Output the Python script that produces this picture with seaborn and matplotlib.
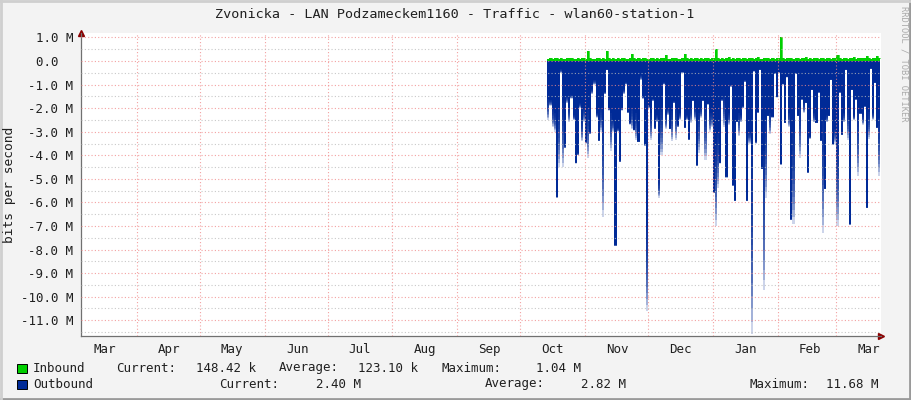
import matplotlib
matplotlib.use('Agg')
import matplotlib.pyplot as plt
from matplotlib.lines import Line2D
from matplotlib.patches import Rectangle
import numpy as np
import pandas as pd
import seaborn as sns

title = 'Zvonicka - LAN Podzameckem1160 - Traffic - wlan60-station-1'
start_day = '2014-10-14'

# inbound traffic per day, Mbit/s
inbound = [
    0.10, 0.12, 0.09, 0.15, 0.11, 0.08, 0.13, 0.10, 0.09, 0.12,
    0.11, 0.14, 0.10, 0.08, 0.12, 0.09, 0.11, 0.13, 0.10, 0.42,
    0.12, 0.09, 0.10, 0.14, 0.11, 0.09, 0.12, 0.10, 0.42, 0.11,
    0.09, 0.13, 0.10, 0.12, 0.08, 0.11, 0.14, 0.10, 0.09, 0.12,
    0.28, 0.11, 0.10, 0.13, 0.09, 0.12, 0.15, 0.10, 0.08, 0.11,
    0.13, 0.09, 0.12, 0.10, 0.14, 0.11, 0.25, 0.10, 0.09, 0.12,
    0.11, 0.13, 0.10, 0.09, 0.14, 0.30, 0.12, 0.10, 0.13, 0.09,
    0.11, 0.14, 0.10, 0.12, 0.09, 0.13, 0.11, 0.10, 0.15, 0.12,
    0.50, 0.14, 0.10, 0.12, 0.09, 0.11, 0.16, 0.10, 0.12, 0.09,
    0.13, 0.11, 0.10, 0.15, 0.12, 0.09, 0.11, 0.14, 0.10, 0.12,
    0.16, 0.10, 0.09, 0.13, 0.11, 0.12, 0.10, 0.14, 0.09, 0.12,
    0.11, 1.00, 0.13, 0.10, 0.12, 0.15, 0.11, 0.09, 0.14, 0.12,
    0.10, 0.13, 0.11, 0.16, 0.10, 0.12, 0.09, 0.14, 0.11, 0.10,
    0.13, 0.12, 0.09, 0.15, 0.11, 0.10, 0.13, 0.12, 0.25, 0.11,
    0.10, 0.14, 0.12, 0.09, 0.13, 0.11, 0.16, 0.10, 0.12, 0.14,
    0.11, 0.13, 0.22, 0.12, 0.10, 0.15, 0.12, 0.20, 0.148,
]

# outbound traffic per day (solid part), Mbit/s
outbound_avg = [
    1.6, 1.65, 2.0, 2.2, 5.75, 2.0, 0.35, 1.8, 3.6, 1.5,
    2.0, 1.45, 2.3, 4.3, 3.9, 1.8, 2.5, 2.0, 3.4, 2.0,
    3.0, 1.2, 0.8, 2.2, 3.35, 2.0, 2.5, 1.3, 0.35, 2.0,
    2.2, 2.5, 7.8, 2.85, 4.2, 2.0, 1.2, 0.9, 2.15, 2.6,
    2.0, 2.9, 2.2, 3.4, 0.6, 1.5, 3.5, 7.0, 1.9, 2.2,
    1.6, 2.8, 2.3, 5.05, 2.0, 0.9, 2.3, 2.0, 2.85, 2.1,
    1.7, 2.0, 2.7, 2.2, 0.45, 2.8, 2.3, 3.3, 2.0, 1.65,
    2.0, 4.4, 2.2, 2.0, 1.65, 2.0, 1.8, 2.2, 2.2, 5.55,
    3.5, 3.1, 4.3, 1.6, 1.5, 4.9, 2.2, 1.0, 5.25, 5.9,
    2.55, 2.2, 2.3, 1.9, 0.8, 5.9, 3.0, 4.0, 0.4, 3.4,
    2.15, 0.35, 4.55, 3.8, 2.5, 2.3, 2.2, 2.35, 0.5, 1.5,
    0.45, 4.35, 0.95, 2.6, 0.65, 2.2, 6.7, 3.0, 0.5, 2.3,
    2.0, 1.6, 1.8, 1.75, 4.7, 3.2, 1.2, 2.2, 2.6, 1.3,
    3.35, 2.5, 5.4, 2.3, 2.3, 0.78, 3.5, 2.9, 3.3, 1.3,
    3.1, 2.2, 0.35, 2.0, 6.9, 1.2, 2.3, 1.6, 2.2, 2.2,
    2.3, 1.9, 6.2, 2.15, 0.3, 2.2, 0.9, 2.8, 2.4,
]

# outbound peak per day (faded tail), Mbit/s
outbound_max = [
    2.5, 1.9, 2.8, 3.0, 5.8, 4.5, 0.5, 4.5, 3.7, 1.8,
    2.6, 1.6, 2.5, 4.35, 4.0, 2.0, 3.4, 2.6, 3.5, 4.1,
    3.1, 1.4, 1.0, 2.4, 3.4, 3.0, 6.6, 1.4, 0.4, 2.1,
    3.8, 3.0, 7.85, 3.0, 4.3, 2.1, 1.4, 1.0, 2.2, 2.7,
    2.9, 2.95, 3.35, 3.45, 0.8, 1.6, 3.6, 10.6, 2.0, 3.35,
    1.7, 2.9, 2.6, 5.8, 4.0, 1.0, 2.9, 2.3, 2.9, 3.4,
    1.8, 3.35, 2.8, 2.5, 0.5, 2.85, 2.5, 3.35, 2.65, 1.7,
    2.5, 4.45, 3.9, 2.4, 1.7, 4.2, 1.85, 3.0, 2.8, 5.6,
    7.0, 5.4, 4.35, 1.7, 2.8, 4.95, 2.7, 1.1, 5.3, 5.95,
    2.6, 3.2, 2.6, 2.0, 0.9, 5.95, 3.5, 11.6, 0.45, 3.5,
    2.2, 0.4, 4.6, 9.7, 5.8, 2.35, 3.1, 2.4, 0.55, 1.55,
    0.5, 4.4, 1.0, 2.65, 0.7, 2.8, 6.75, 6.9, 0.55, 2.35,
    4.1, 1.65, 2.2, 1.8, 4.75, 3.3, 1.25, 2.6, 2.65, 1.35,
    3.4, 7.3, 5.45, 2.6, 2.35, 0.8, 3.55, 3.5, 7.0, 1.35,
    3.15, 2.6, 0.4, 3.35, 6.95, 1.25, 2.5, 1.65, 4.9, 2.25,
    2.7, 1.95, 6.25, 3.3, 0.35, 2.5, 0.95, 2.85, 4.9,
]

month_labels = ['Mar', 'Apr', 'May', 'Jun', 'Jul', 'Aug', 'Sep',
                'Oct', 'Nov', 'Dec', 'Jan', 'Feb', 'Mar']
y_ticks = [1, 0, -1, -2, -3, -4, -5, -6, -7, -8, -9, -10, -11]
y_labels = ['1.0 M', '0.0\u00a0\u00a0', '-1.0 M', '-2.0 M', '-3.0 M', '-4.0 M',
            '-5.0 M', '-6.0 M', '-7.0 M', '-8.0 M', '-9.0 M', '-10.0 M', '-11.0 M']

legend_rows = [
    [('Inbound', 33), ('Current:', 116), ('148.42 k', 196), ('Average:', 279),
     ('123.10 k', 358), ('Maximum:', 441), ('1.04 M', 536)],
    [('Outbound', 33), ('Current:', 219), ('2.40 M', 316), ('Average:', 485),
     ('2.82 M', 581), ('Maximum:', 749), ('11.68 M', 826)],
]

green = '#00CF00'
blue = '#002A97'

sns.set_theme(style='white')
plt.rcParams['font.family'] = ['DejaVu Sans Mono']

W, H = 911, 400
fig = plt.figure(figsize=(W / 100, H / 100), dpi=100, facecolor='#F3F3F3')
ax = fig.add_axes([81 / W, 1 - 336 / H, 800 / W, 303 / H])
ax.set_facecolor('white')

days = pd.date_range(start_day, periods=len(inbound) + 1, freq='D')
inb = np.append(inbound, inbound[-1])
oavg = np.append(outbound_avg, outbound_avg[-1])
omax = np.append(outbound_max, outbound_max[-1])

# inbound (positive)
ax.fill_between(days, 0, inb, step='post', color=green, lw=0, zorder=1)
sns.lineplot(x=days, y=inb, drawstyle='steps-post', color=green, lw=0.5, ax=ax, zorder=1)

# outbound (negative), solid core plus a fading tail
ax.fill_between(days, 0, -oavg, step='post', color=blue, lw=0, zorder=1)
n_layers = 14
for k in range(n_layers):
    frac = (k + 1) / n_layers
    ax.fill_between(days, -oavg, -(oavg + (omax - oavg) * frac), step='post',
                    color=blue, alpha=0.2, lw=0, zorder=1)

# grid
ax.set_axisbelow(False)
ax.set_yticks(y_ticks)
ax.set_yticklabels(y_labels)
ax.set_yticks(np.arange(0.5, -12, -1), minor=True)

mid_months = pd.date_range('2014-03-01', periods=13, freq='MS') + pd.Timedelta(days=15, hours=12)
month_starts = pd.date_range('2014-04-01', periods=12, freq='MS')
ax.set_xticks(mid_months)
ax.set_xticklabels(month_labels)
ax.set_xticks(month_starts, minor=True)

ax.set_xlim(pd.Timestamp('2014-03-05 07:00'), pd.Timestamp('2015-03-22 07:00'))
ax.set_ylim(-11.67, 1.19)
ax.set_xlabel('')
ax.set_ylabel('')

dots = (0, (1, 2))
ax.yaxis.grid(True, which='major', color='#F08A8A', ls=dots, lw=0.8, alpha=0.8)
ax.yaxis.grid(True, which='minor', color='#BBBBBB', ls=dots, lw=0.8, alpha=0.8)
ax.xaxis.grid(True, which='minor', color='#F08A8A', ls=dots, lw=0.8, alpha=0.8)
ax.xaxis.grid(False, which='major')

ax.tick_params(axis='both', which='both', length=0, labelsize=9, colors='#202020')
ax.tick_params(axis='y', pad=5.5)
ax.tick_params(axis='x', pad=5)

for side in ['top', 'right']:
    ax.spines[side].set_visible(False)
for side in ['left', 'bottom']:
    ax.spines[side].set_color('#707070')
    ax.spines[side].set_linewidth(0.9)

# axis arrows
ax.plot([0], [1.0], marker='^', color='#8B0000', ms=4, transform=ax.transAxes, clip_on=False)
ax.plot([1.0], [0], marker='>', color='#8B0000', ms=4, transform=ax.transAxes, clip_on=False)

# texts
fig.text(455 / W, 1 - 14 / H, title, ha='center', va='center', fontsize=9.7, color='#202020')
fig.text(10 / W, 1 - 185 / H, 'bits per second', rotation=90, ha='center', va='center',
         fontsize=9.3, color='#202020')
fig.text(904 / W, 1 - 6 / H, 'RRDTOOL / TOBI OETIKER', rotation=270, ha='center', va='top',
         fontsize=6.3, color='#AAAAAA')

for (row, y_px, col) in zip(legend_rows, [368, 384], [green, blue]):
    fig.add_artist(Rectangle((17 / W, 1 - (y_px + 5) / H), 10 / W, 9 / H,
                             transform=fig.transFigure, facecolor=col,
                             edgecolor='black', lw=0.7))
    for text, x_px in row:
        fig.text(x_px / W, 1 - y_px / H, text, ha='left', va='center',
                 fontsize=9, color='#202020')

# image frame
fig.add_artist(Line2D([0, 1], [1 / H, 1 / H], transform=fig.transFigure, color='#9A9A9A', lw=2))
fig.add_artist(Line2D([1 - 1 / W, 1 - 1 / W], [0, 1], transform=fig.transFigure, color='#9A9A9A', lw=2))
fig.add_artist(Line2D([0, 1], [1 - 1 / H, 1 - 1 / H], transform=fig.transFigure, color='#CFCFCF', lw=2))
fig.add_artist(Line2D([1 / W, 1 / W], [0, 1], transform=fig.transFigure, color='#CFCFCF', lw=2))

fig.savefig('out.png', dpi=100, facecolor=fig.get_facecolor())
